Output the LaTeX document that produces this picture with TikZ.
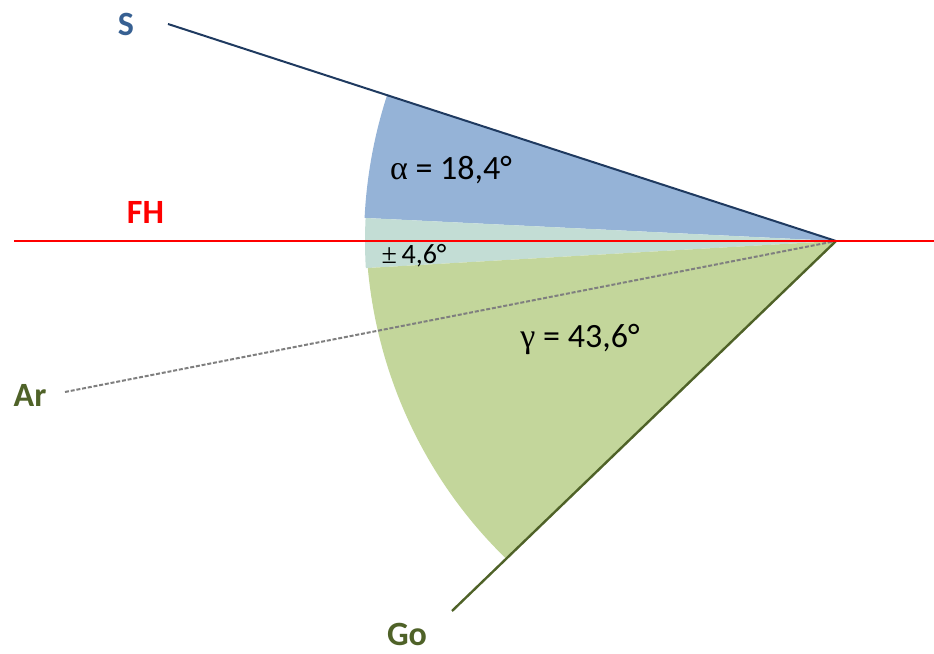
\documentclass[tikz,border=0pt]{standalone}
\usepackage{fontspec}
\setmainfont{Carlito}
\newfontfamily\grk{Liberation Serif}
\definecolor{wblue}{HTML}{95B3D7}
\definecolor{wband}{HTML}{C3DDD5}
\definecolor{wgreen}{HTML}{C3D69B}
\definecolor{navy}{HTML}{1F3A60}
\definecolor{slabel}{HTML}{376092}
\definecolor{olive}{HTML}{4F6228}
\definecolor{argray}{HTML}{7F7F7F}
\begin{document}
\begin{tikzpicture}[x=1pt,y=1pt,
  lbl/.style={inner sep=0pt,anchor=base,font=\fontsize{34}{40}\selectfont\bfseries},
  ang/.style={inner sep=0pt,anchor=base,font=\fontsize{34}{40}\selectfont},
  small/.style={inner sep=0pt,anchor=base,font=\fontsize{28}{34}\selectfont}]
\useasboundingbox (0,0) rectangle (934,653);
\coordinate (A) at (836,412);
\coordinate (Send) at (168,629);
\coordinate (Goend) at (452,42);
\coordinate (Arend) at (65,261);
\coordinate (FHl) at (14,412);
\coordinate (FHr) at (934,412);
% wedges
\fill[wblue] (A) -- +(162.0:472pt) arc[start angle=162.0,end angle=177.2,radius=472pt] -- cycle;
\fill[wband] (A) -- +(177.2:471pt) arc[start angle=177.2,end angle=183.3,radius=471pt] -- cycle;
\fill[wgreen] (A) -- plot[domain=183.3:223.93,samples=50,variable=\t]
  ({836+(469-(\t-183.3)*11/40.63)*cos(\t)},{412+(469-(\t-183.3)*11/40.63)*sin(\t)}) -- cycle;
% lines
\draw[argray,line width=2pt,dash pattern=on 4pt off 1.8pt] (Arend) -- (A);
\draw[navy,line width=2pt] (Send) -- (A);
\draw[olive,line width=2.4pt] (Goend) -- (A);
\draw[red,line width=1.4pt] (FHl) -- (FHr);
% labels
\node[lbl,text=slabel] (S) at (126,617) {S};
\node[lbl,text=red] (FH) at (145.5,429) {FH};
\node[lbl,text=olive] (Ar) at (30,246) {Ar};
\node[lbl,text=olive] (Go) at (407,8) {Go};
\node[ang] (alpha) at (451,473) {{\grk α} = 18,4°};
\node[ang] (gamma) at (580,305) {{\grk γ} = 43,6°};
\node[small] (pm) at (414,389) {{\grk ±}\,4,6°};
\end{tikzpicture}
\end{document}
